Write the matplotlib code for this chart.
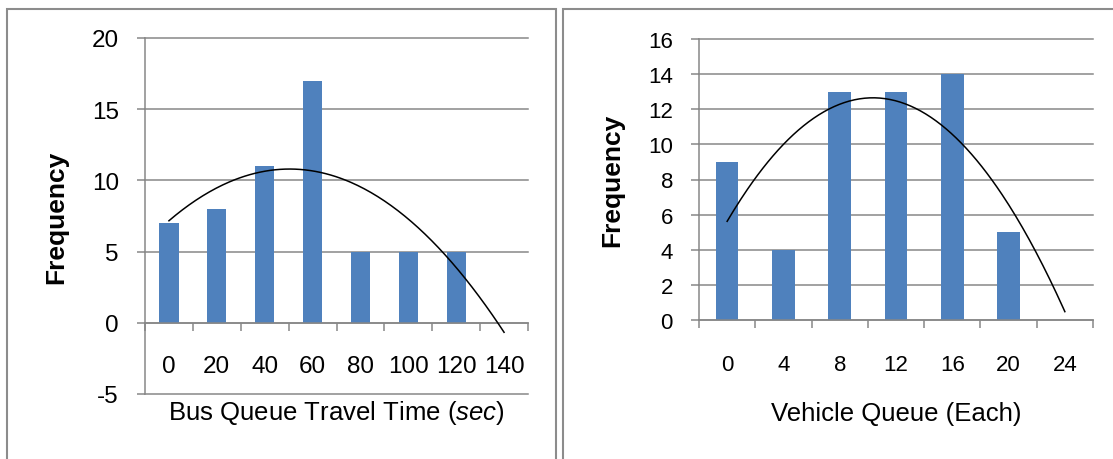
import numpy as np
import matplotlib.pyplot as plt
from matplotlib.patches import Rectangle

plt.rcParams['font.family'] = ['Liberation Sans', 'DejaVu Sans']
plt.rcParams['axes.unicode_minus'] = False
plt.rcParams['mathtext.fontset'] = 'custom'
plt.rcParams['mathtext.rm'] = 'Liberation Sans'
plt.rcParams['mathtext.it'] = 'Liberation Sans:italic'

# data
bus_time = ['0', '20', '40', '60', '80', '100', '120', '140']
bus_freq = [7, 8, 11, 17, 5, 5, 5, 0]

veh_queue = ['0', '4', '8', '12', '16', '20', '24']
veh_freq = [9, 4, 13, 13, 14, 5, 0]

bar_color = '#4F81BD'
grid_color = '#878787'
W, H = 1113, 460

fig = plt.figure(figsize=(W / 100, H / 100), dpi=100)

# panel frames (Excel chart borders)
fig.add_artist(Rectangle((7 / W, -0.05), (556 - 7) / W, (H - 10) / H + 0.05,
                         transform=fig.transFigure, fill=False,
                         edgecolor='#8c8c8c', linewidth=1.5))
fig.add_artist(Rectangle((563 / W, -0.05), 1, (H - 10) / H + 0.05,
                         transform=fig.transFigure, fill=False,
                         edgecolor='#8c8c8c', linewidth=1.5))


def excel_bar(rect, cats, vals, ylim, ystep, tick_fs, pad_x, xlabel, xlab_y, ylab_x):
    ax = fig.add_axes(rect)
    n = len(cats)
    idx = np.arange(n)
    ax.bar(idx, vals, width=0.4, color=bar_color, zorder=2)

    # polynomial (order 2) trendline, like Excel
    coef = np.polyfit(idx, vals, 2)
    xs = np.linspace(0, n - 1, 200)
    ax.plot(xs, np.polyval(coef, xs), color='black', linewidth=1.1, zorder=3,
            clip_on=False)

    ax.set_xlim(-0.5, n - 0.5)
    ax.set_ylim(*ylim)
    ax.set_yticks(np.arange(ylim[0], ylim[1] + 1, ystep))
    ax.yaxis.grid(True, color=grid_color, linewidth=1.1, zorder=0)
    for gl in ax.get_ygridlines():
        gl.set_clip_on(False)
    ax.set_axisbelow(True)

    for s in ['top', 'right']:
        ax.spines[s].set_visible(False)
    ax.spines['left'].set_color(grid_color)
    ax.spines['left'].set_linewidth(1.1)
    ax.spines['bottom'].set_position(('data', 0))
    ax.spines['bottom'].set_color(grid_color)
    ax.spines['bottom'].set_linewidth(1.1)

    # ticks at category boundaries, labels at category centres
    ax.set_xticks(np.arange(n + 1) - 0.5)
    ax.set_xticklabels([])
    ax.set_xticks(idx, minor=True)
    ax.set_xticklabels(cats, minor=True, fontsize=tick_fs)
    ax.tick_params(axis='x', which='major', length=5.8, width=1.1, color=grid_color)
    ax.tick_params(axis='x', which='minor', length=0, pad=pad_x)
    ax.tick_params(axis='y', length=5.8, width=1.1, color=grid_color,
                   labelsize=tick_fs, pad=13)

    ax.text(0.5, xlab_y, xlabel, transform=ax.transAxes, ha='center', va='center',
            fontsize=18.5)
    ax.text(ylab_x, 0.5, 'Frequency', transform=ax.transAxes, rotation=90,
            ha='center', va='center', fontsize=19, fontweight='bold')
    return ax


# left chart: x 145..528, y 39..395 (pixels)
excel_bar([145 / W, 1 - 395 / H, (528 - 145) / W, (395 - 39) / H],
          bus_time, bus_freq, (-5, 20), 5, 17.5, 23,
          r'Bus Queue Travel Time ($\mathit{sec}$)', (395 - 413) / (395 - 39),
          (56 - 145) / (528 - 145))

# right chart: x 699..1093, y 40..321 (pixels)
excel_bar([699 / W, 1 - 321 / H, (1093 - 699) / W, (321 - 40) / H],
          veh_queue, veh_freq, (0, 16), 2, 16, 24.5,
          'Vehicle Queue (Each)', (321 - 414) / (321 - 40),
          (612 - 699) / (1093 - 699))

fig.savefig('out.png', dpi=100)
